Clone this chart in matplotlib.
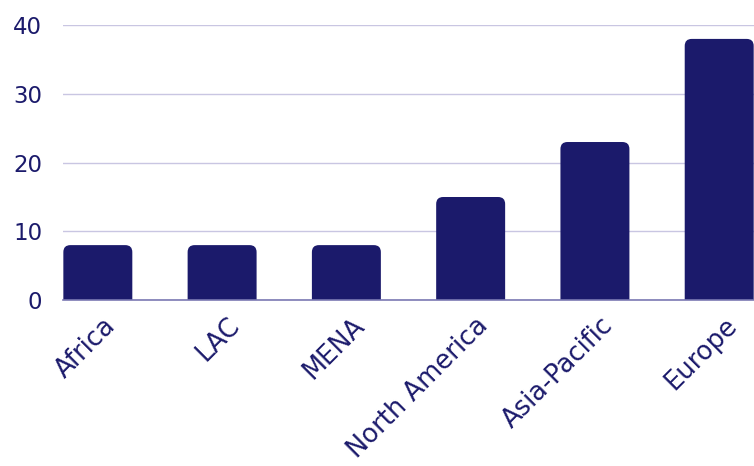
import numpy as np
import matplotlib
matplotlib.use("Agg")
import matplotlib.pyplot as plt
from matplotlib.patches import FancyBboxPatch
import matplotlib.transforms as mtransforms

regions = ["Africa", "LAC", "MENA", "North America", "Asia-Pacific", "Europe"]
values = [8, 8, 8, 15, 23, 38]
yticks = [0, 10, 20, 30, 40]

navy = "#1b1a6b"
grid_col = "#c9c6e2"
axis_col = "#7b79b3"

plt.rcParams["font.family"] = ["DejaVu Sans"]

fig = plt.figure(figsize=(7.54, 4.66), dpi=100)
ax = fig.add_axes([0.0836, 0.356, 0.9164, 0.590])

x = np.arange(len(regions))
width = 0.555
bars = ax.bar(x, values, width=width, color=navy, zorder=3)

ax.set_xlim(-0.28, 5.28)
ax.set_ylim(0, 40)
fig.canvas.draw()
bb = ax.get_window_extent()
px_x = (ax.get_xlim()[1] - ax.get_xlim()[0]) / bb.width
px_y = (ax.get_ylim()[1] - ax.get_ylim()[0]) / bb.height
r = 7  # corner radius in px

# swap each bar for a box with rounded corners; the bottom goes below 0 and is clipped
for b in bars:
    bx, h, w = b.get_x(), b.get_height(), b.get_width()
    b.set_visible(False)
    top = FancyBboxPatch((bx, -3), w, h + 3,
                         boxstyle=f"round,pad=0,rounding_size={r * px_x}",
                         mutation_aspect=px_y / px_x,
                         facecolor=navy, edgecolor="none", zorder=3)
    ax.add_patch(top)

ax.set_yticks(yticks)
ax.yaxis.grid(True, color=grid_col, linewidth=1, zorder=0)
ax.set_axisbelow(True)
for s in ["top", "right", "left"]:
    ax.spines[s].set_visible(False)
ax.spines["bottom"].set_color(axis_col)
ax.spines["bottom"].set_linewidth(1.2)
ax.spines["bottom"].set_zorder(4)

ax.tick_params(axis="y", length=0, pad=15, labelsize=16.5, labelcolor=navy)
ax.tick_params(axis="x", length=0, pad=10, labelsize=18.5, labelcolor=navy)
ax.set_xticks(x)
ax.set_xticklabels(regions, rotation=45, ha="right", va="center",
                   rotation_mode="anchor")
offset = mtransforms.ScaledTranslation(0.14, -0.08, fig.dpi_scale_trans)
for lab in ax.get_xticklabels():
    lab.set_transform(lab.get_transform() + offset)

fig.savefig("out.png", dpi=100)
